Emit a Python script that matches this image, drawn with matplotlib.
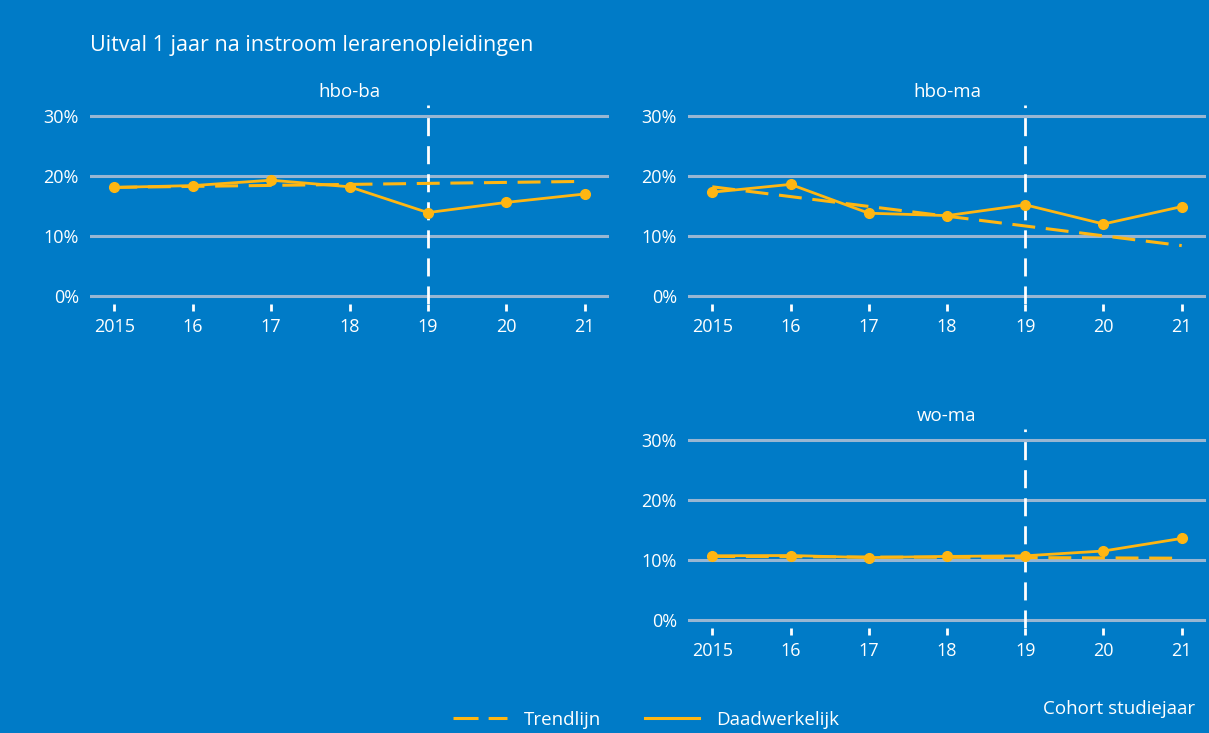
import matplotlib
matplotlib.use('Agg')
import matplotlib.pyplot as plt
from matplotlib.lines import Line2D

# cohort years and dropout after one year (%)
years = [2015, 2016, 2017, 2018, 2019, 2020, 2021]
year_labels = ['2015', '16', '17', '18', '19', '20', '21']

hbo_ba_actual = [18.1, 18.4, 19.3, 18.2, 13.9, 15.6, 17.0]
hbo_ba_trend = [18.1, 18.27, 18.43, 18.6, 18.77, 18.93, 19.1]

hbo_ma_actual = [17.3, 18.6, 13.8, 13.4, 15.2, 12.0, 14.9]
hbo_ma_trend = [18.2, 16.57, 14.93, 13.3, 11.67, 10.03, 8.4]

wo_ma_actual = [10.7, 10.75, 10.4, 10.6, 10.7, 11.5, 13.6]
wo_ma_trend = [10.6, 10.55, 10.5, 10.45, 10.4, 10.35, 10.3]

y_ticks = [0, 10, 20, 30]

BG = '#007BC7'
YELLOW = '#FFB612'
GRID = '#98B6D2'
WHITE = '#FFFFFF'

plt.rcParams['font.family'] = ['Open Sans', 'DejaVu Sans']

W, H = 1209, 733
fig = plt.figure(figsize=(W / 100, H / 100), dpi=100, facecolor=BG)


def px_axes(left, right, top, bottom):
    return fig.add_axes([left / W, 1 - bottom / H, (right - left) / W, (bottom - top) / H])


def panel(ax, title, actual, trend):
    ax.set_facecolor(BG)
    ax.set_xlim(2014.69, 2021.31)
    ax.set_ylim(-1.33, 31.83)
    for s in ax.spines.values():
        s.set_visible(False)
    for t in y_ticks:
        ax.axhline(t, color=GRID, lw=2.2, zorder=1)
    ax.axvline(2019, color=WHITE, lw=2, dashes=(6.5, 3.6), zorder=2)
    ax.plot(years, trend, color=YELLOW, lw=2.2, dashes=(7.5, 3.5), zorder=3)
    ax.plot(years, actual, color=YELLOW, lw=2, marker='o', ms=7, zorder=4)
    ax.set_xticks(years)
    ax.set_xticklabels(year_labels)
    ax.set_yticks(y_ticks)
    ax.set_yticklabels([f'{t}%' for t in y_ticks])
    ax.tick_params(axis='x', colors=WHITE, direction='out', length=5, width=2,
                   pad=5, labelsize=13)
    ax.tick_params(axis='y', colors=WHITE, length=0, pad=8, labelsize=13)
    ax.set_title(title, color=WHITE, fontsize=13.5, pad=6)


ax1 = px_axes(90, 609, 105, 304)
ax2 = px_axes(688, 1206, 105, 304)
ax3 = px_axes(688, 1206, 429, 628)

panel(ax1, 'hbo-ba', hbo_ba_actual, hbo_ba_trend)
panel(ax2, 'hbo-ma', hbo_ma_actual, hbo_ma_trend)
panel(ax3, 'wo-ma', wo_ma_actual, wo_ma_trend)

fig.text(90 / W, 1 - 46 / H, 'Uitval 1 jaar na instroom lerarenopleidingen',
         color=WHITE, fontsize=15.5, ha='left', va='center')
fig.text(1195 / W, 1 - 709 / H, 'Cohort studiejaar', color=WHITE, fontsize=13.5,
         ha='right', va='center')

handles = [Line2D([], [], color=YELLOW, lw=2.2, dashes=(8.2, 3.3)),
           Line2D([], [], color=YELLOW, lw=2.2)]
fig.legend(handles, ['Trendlijn', 'Daadwerkelijk'], loc='center',
           bbox_to_anchor=(646 / W, 1 - 720 / H), ncol=2, frameon=False,
           labelcolor=WHITE, fontsize=13.5, handlelength=2.9, handletextpad=0.9,
           columnspacing=2.3)

fig.savefig('out.png', dpi=100, facecolor=BG)
